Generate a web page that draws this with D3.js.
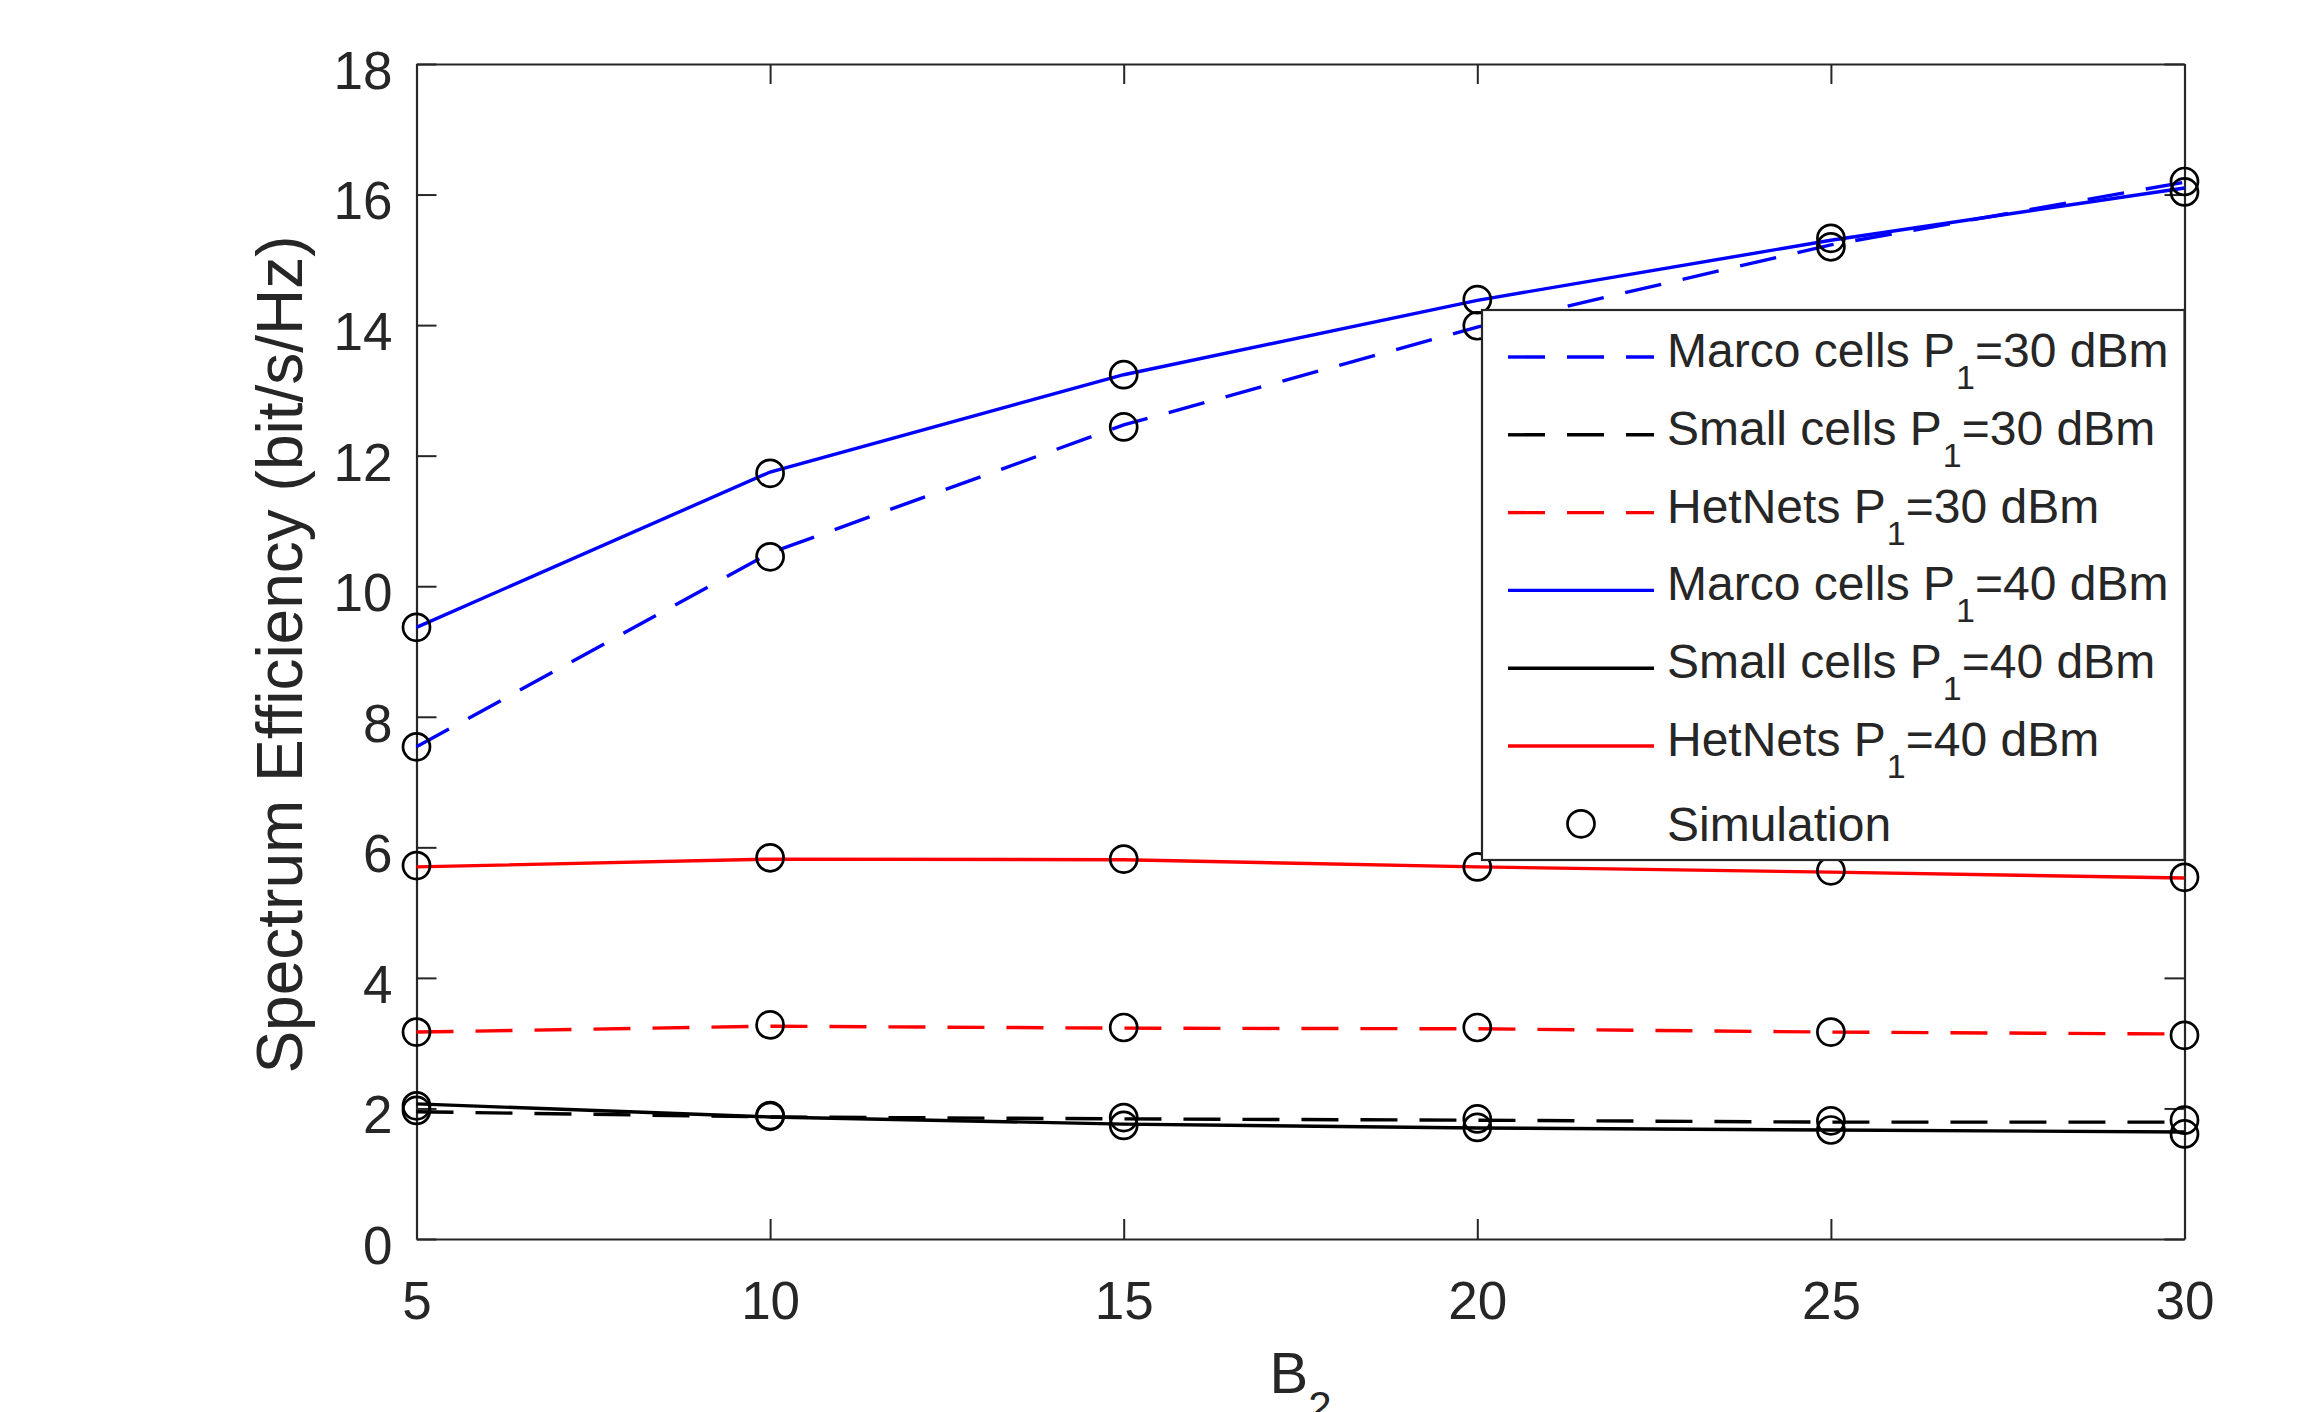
<!DOCTYPE html>
<html>
  <head>
    <title>Spectrum Efficiency vs B2</title>
    <script src="https://d3js.org/d3.v7.min.js" charset="utf-8"></script>
    <style type="text/css">
      body { margin: 0; background: #ffffff; }
      svg text { font-family: "Liberation Sans", Arial, Helvetica, sans-serif; fill: #262626; }
    </style>
  </head>
  <body>
    <script type="text/javascript">

      // B2 values on the x axis
      var b2 = [5, 10, 15, 20, 25, 30];
      var xTicks = [5, 10, 15, 20, 25, 30];
      var yTicks = [0, 2, 4, 6, 8, 10, 12, 14, 16, 18];

      // analytical curves
      var marco30 = [7.54, 10.51, 12.47, 13.97, 15.23, 16.19];
      var small30 = [1.95, 1.87, 1.84, 1.82, 1.79, 1.79];
      var het30   = [3.17, 3.26, 3.23, 3.22, 3.17, 3.14];
      var marco40 = [9.37, 11.75, 13.24, 14.38, 15.30, 16.10];
      var small40 = [2.07, 1.87, 1.76, 1.70, 1.67, 1.64];
      var het40   = [5.70, 5.82, 5.81, 5.70, 5.62, 5.53];

      // simulation points (circles)
      var simMarco30 = [7.54, 10.45, 12.44, 13.99, 15.20, 16.20];
      var simSmall30 = [1.97, 1.89, 1.86, 1.84, 1.81, 1.82];
      var simHet30   = [3.17, 3.28, 3.24, 3.24, 3.17, 3.12];
      var simMarco40 = [9.37, 11.73, 13.24, 14.39, 15.33, 16.04];
      var simSmall40 = [2.04, 1.88, 1.74, 1.71, 1.67, 1.61];
      var simHet40   = [5.72, 5.84, 5.82, 5.70, 5.64, 5.54];

      var legendNames = ["Marco cells", "Small cells", "HetNets", "Marco cells", "Small cells", "HetNets"];
      var legendPower = ["30", "30", "30", "40", "40", "40"];

      var width = 2304, height = 1412;
      var axisColor = "#262626";

      var svg = d3.select("body").append("svg")
          .attr("width", width)
          .attr("height", height);

      var x = d3.scaleLinear().domain([5, 30]).range([416.5, 2184.5]);
      var y = d3.scaleLinear().domain([0, 18]).range([1239, 64]);

      // series setup
      var series = [
        { v: marco30, sim: simMarco30, color: "#0000ff", dash: "37,22" },
        { v: small30, sim: simSmall30, color: "#000000", dash: "37,22" },
        { v: het30,   sim: simHet30,   color: "#ff0000", dash: "37,22" },
        { v: marco40, sim: simMarco40, color: "#0000ff", dash: null },
        { v: small40, sim: simSmall40, color: "#000000", dash: null },
        { v: het40,   sim: simHet40,   color: "#ff0000", dash: null }
      ];

      var line = d3.line()
          .x(function(d, i) { return x(b2[i]); })
          .y(function(d) { return y(d); });

      // Axes (ticks pointing inward, box on)
      function styleAxis(g) {
        g.selectAll("path").attr("stroke", axisColor).attr("stroke-width", 2.2);
        g.selectAll("line").attr("stroke", axisColor).attr("stroke-width", 2);
        g.selectAll("text").style("font-size", "53px").attr("fill", axisColor);
      }

      svg.append("g")
          .attr("transform", "translate(0," + y(0) + ")")
          .call(d3.axisBottom(x).tickValues(xTicks).tickSizeInner(-20).tickSizeOuter(0).tickPadding(42))
          .call(styleAxis);

      svg.append("g")
          .attr("transform", "translate(0," + y(18) + ")")
          .call(d3.axisTop(x).tickValues(xTicks).tickSizeInner(-20).tickSizeOuter(0).tickFormat(""))
          .call(styleAxis);

      var yAxisG = svg.append("g")
          .attr("transform", "translate(" + x(5) + ",0)")
          .call(d3.axisLeft(y).tickValues(yTicks).tickSizeInner(-20).tickSizeOuter(0).tickPadding(24))
          .call(styleAxis);
      yAxisG.selectAll("text").attr("dy", "0.46em");

      svg.append("g")
          .attr("transform", "translate(" + x(30) + ",0)")
          .call(d3.axisRight(y).tickValues(yTicks).tickSizeInner(-20).tickSizeOuter(0).tickFormat(""))
          .call(styleAxis);

      svg.selectAll(".domain").attr("fill", "none");

      // Lines
      svg.append("g").selectAll("path.curve")
          .data(series)
          .enter().append("path")
          .attr("class", "curve")
          .attr("d", function(s) { return line(s.v); })
          .attr("fill", "none")
          .attr("stroke", function(s) { return s.color; })
          .attr("stroke-width", 3.4)
          .attr("stroke-dasharray", function(s) { return s.dash; });

      // Simulation circles
      var simPts = [];
      series.forEach(function(s) {
        s.sim.forEach(function(v, i) { simPts.push({ x: b2[i], y: v }); });
      });

      svg.append("g").selectAll("circle")
          .data(simPts)
          .enter().append("circle")
          .attr("cx", function(d) { return x(d.x); })
          .attr("cy", function(d) { return y(d.y); })
          .attr("r", 13.5)
          .attr("fill", "none")
          .attr("stroke", "#000000")
          .attr("stroke-width", 2.7);

      // Legend
      var lg = svg.append("g");
      lg.append("rect")
          .attr("x", 1482).attr("y", 310)
          .attr("width", x(30) - 1482).attr("height", 550)
          .attr("fill", "#ffffff")
          .attr("stroke", axisColor)
          .attr("stroke-width", 2.2);

      var rowY = function(i) { return 357 + i * 77.8; };

      series.forEach(function(s, i) {
        lg.append("line")
            .attr("x1", 1508).attr("x2", 1654)
            .attr("y1", rowY(i)).attr("y2", rowY(i))
            .attr("stroke", s.color)
            .attr("stroke-width", 3.4)
            .attr("stroke-dasharray", s.dash);

        var t = lg.append("text")
            .attr("x", 1667)
            .attr("y", rowY(i) + 10)
            .style("font-size", "48px");
        t.append("tspan").text(legendNames[i] + " P");
        t.append("tspan").attr("dx", 1).attr("dy", 22).style("font-size", "34px").text("1");
        t.append("tspan").attr("dy", -22).text("=" + legendPower[i] + " dBm");
      });

      lg.append("circle")
          .attr("cx", 1581).attr("cy", rowY(6))
          .attr("r", 13.5)
          .attr("fill", "none")
          .attr("stroke", "#000000")
          .attr("stroke-width", 2.7);

      lg.append("text")
          .attr("x", 1667)
          .attr("y", rowY(6) + 17)
          .style("font-size", "48px")
          .text("Simulation");

      // Axis labels
      svg.append("text")
          .attr("transform", "translate(302," + (y(9) + 3) + ") rotate(-90)")
          .attr("text-anchor", "middle")
          .style("font-size", "64px")
          .text("Spectrum Efficiency (bit/s/Hz)");

      var xl = svg.append("text")
          .attr("x", (x(5) + x(30)) / 2)
          .attr("y", 1393)
          .attr("text-anchor", "middle")
          .style("font-size", "58px");
      xl.append("tspan").text("B");
      xl.append("tspan").attr("dy", 28).style("font-size", "42px").text("2");

    </script>
  </body>
</html>
